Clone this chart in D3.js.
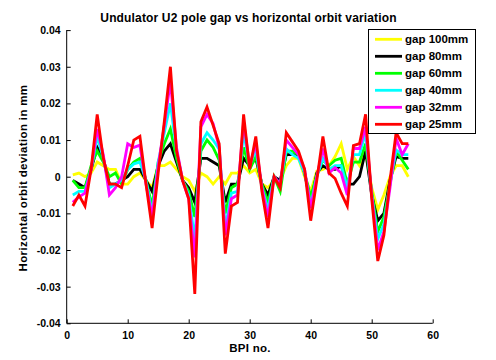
<!DOCTYPE html>
<html><head><meta charset="utf-8">
<script src="https://cdn.jsdelivr.net/npm/d3@7"></script>
<style>
html,body{margin:0;padding:0;background:#fff;}
svg text{font-family:"Liberation Sans",Arial,sans-serif;font-weight:bold;fill:#000;}
</style></head>
<body><svg id="c" width="496" height="360"></svg>
<script>
const bpi = d3.range(1, 57);
const gap100 = [0.0005,0.001,0.000,0.001,0.004,0.003,0.002,0.002,-0.002,-0.002,0.000,0.001,-0.001,-0.003,0.003,0.003,0.004,0.002,0.000,-0.001,-0.004,0.001,0.000,-0.002,0.000,-0.002,0.001,0.001,0.003,0.001,0.002,-0.002,-0.003,-0.001,-0.001,0.003,0.005,0.005,0.000,-0.004,0.0015,0.002,0.003,0.0055,0.009,0.002,0.0055,0.003,0.007,-0.003,-0.009,-0.005,0.000,0.003,0.003,0.000];
const gap80 = [-0.001,-0.002,-0.003,0.002,0.008,0.005,-0.002,-0.002,-0.001,0.000,0.002,0.002,-0.001,-0.004,0.003,0.007,0.009,0.004,-0.001,-0.003,-0.007,0.005,0.005,0.004,0.003,-0.007,-0.002,-0.002,0.005,0.003,0.005,-0.002,-0.005,0.000,-0.001,0.006,0.006,0.006,0.001,-0.007,0.001,0.003,0.002,0.002,0.003,-0.002,-0.002,0.000,0.007,-0.005,-0.012,-0.010,-0.001,0.0055,0.005,0.005];
const gap60 = [-0.001,-0.003,-0.003,0.003,0.007,0.004,0.000,0.001,-0.002,0.002,0.004,0.005,-0.001,-0.008,0.004,0.009,0.013,0.005,-0.001,-0.004,-0.011,0.007,0.010,0.008,0.0045,-0.010,-0.003,-0.002,0.008,0.002,0.0055,-0.002,-0.007,0.000,-0.004,0.007,0.007,0.006,0.001,-0.0055,0.0005,0.0045,0.003,0.0045,0.005,-0.002,0.004,0.004,0.009,-0.004,-0.015,-0.011,-0.002,0.007,0.0045,0.002];
const gap40 = [-0.005,-0.004,-0.004,0.002,0.011,0.005,-0.003,-0.002,-0.001,0.002,0.0035,0.004,-0.001,-0.010,0.004,0.012,0.020,0.007,-0.001,-0.005,-0.017,0.009,0.012,0.010,0.0075,-0.014,-0.0045,-0.004,0.012,0.003,0.0075,-0.003,-0.009,0.000,-0.002,0.0076,0.006,0.005,0.001,-0.0077,0.000,0.005,0.002,0.003,0.003,-0.003,0.006,0.006,0.012,-0.005,-0.017,-0.013,-0.002,0.0073,0.006,0.006];
const gap32 = [-0.007,-0.0055,-0.0045,0.002,0.013,0.006,-0.005,-0.003,0.000,0.009,0.008,0.0086,-0.002,-0.011,0.003,0.014,0.026,0.008,-0.001,-0.006,-0.022,0.0136,0.017,0.0145,0.008,-0.016,-0.006,-0.005,0.015,0.003,0.009,-0.003,-0.011,0.000,-0.002,0.010,0.008,0.006,0.002,-0.0086,0.000,0.0077,0.001,0.0025,0.001,-0.005,0.0077,0.0077,0.0136,-0.005,-0.020,-0.015,-0.003,0.0105,0.006,0.009];
const gap25 = [-0.008,-0.005,-0.008,0.002,0.017,0.005,-0.002,-0.002,-0.003,0.003,0.010,0.011,-0.002,-0.014,0.001,0.015,0.030,0.007,-0.001,-0.006,-0.032,0.015,0.019,0.014,0.009,-0.021,-0.008,-0.007,0.017,0.002,0.011,-0.004,-0.014,0.000,-0.003,0.012,0.0095,0.007,0.002,-0.012,-0.001,0.011,0.001,-0.0005,-0.0045,-0.008,0.0085,0.009,0.017,-0.006,-0.023,-0.016,-0.001,0.012,0.009,0.009];
const seriesNames = ["gap 100mm","gap 80mm","gap 60mm","gap 40mm","gap 32mm","gap 25mm"];
const seriesValues = [gap100, gap80, gap60, gap40, gap32, gap25];
const seriesColors = ["#ffff00","#000000","#00ff00","#00ffff","#ff00ff","#ff0000"];
const xTicks = [0,10,20,30,40,50,60];
const yTicks = [-0.04,-0.03,-0.02,-0.01,0,0.01,0.02,0.03,0.04];
const yTickLabels = ["-0.04","-0.03","-0.02","-0.01","0","0.01","0.02","0.03","0.04"];
const titleText = "Undulator U2 pole gap vs horizontal orbit variation";
const xLabel = "BPI no.";
const yLabel = "Horizontal orbit deviation in mm";

const svg = d3.select("#c");
const L = 66.7, R = 432.7, T = 30.1, B = 323.3;
const x = d3.scaleLinear().domain([0,60]).range([L,R]);
const y = d3.scaleLinear().domain([-0.04,0.04]).range([B,T]);

const xAxis = d3.axisBottom(x).tickValues(xTicks).tickSize(-4).tickPadding(8).tickFormat(d3.format("d"));
const yAxis = d3.axisLeft(y).tickValues(yTicks).tickSize(-4).tickPadding(6).tickFormat((d,i)=>yTickLabels[i]);

const gx = svg.append("g").attr("transform",`translate(0,${B})`).call(xAxis);
const gy = svg.append("g").attr("transform",`translate(${L},0)`).call(yAxis);
[gx,gy].forEach(g=>{
  g.selectAll("path.domain").attr("stroke","#000").attr("stroke-width",1);
  g.selectAll(".tick line").attr("stroke","#000");
  g.selectAll("text").style("font-size","10.5px").style("font-family","Liberation Sans, Arial, sans-serif").style("font-weight","bold");
});
gx.select("path.domain").attr("d",`M${L},0H${R}`);
gy.select("path.domain").attr("d",`M0,${B}V${T}`);

const line = d3.line().x((d,i)=>x(bpi[i])).y(d=>y(d));
seriesValues.forEach((vals,k)=>{
  svg.append("path").datum(vals).attr("d",line)
    .attr("fill","none").attr("stroke",seriesColors[k]).attr("stroke-width",2.8)
    .attr("stroke-linejoin","miter").attr("stroke-miterlimit",4);
});

svg.append("text").attr("x",248.5).attr("y",21.5).attr("text-anchor","middle")
  .style("font-size","12px").style("letter-spacing","0.15px").text(titleText);
svg.append("text").attr("x",250).attr("y",352).attr("text-anchor","middle")
  .style("font-size","11.5px").style("letter-spacing","0.3px").text(xLabel);
svg.append("text").attr("transform","translate(27,178) rotate(-90)").attr("text-anchor","middle")
  .style("font-size","11.5px").style("letter-spacing","0.35px").text(yLabel);

const lg = svg.append("g");
lg.append("rect").attr("x",368.5).attr("y",29.5).attr("width",107).attr("height",104)
  .attr("fill","#fff").attr("stroke","#000").attr("stroke-width",1);
seriesNames.forEach((n,k)=>{
  const yy = 39.3 + k*17;
  lg.append("line").attr("x1",375).attr("x2",402).attr("y1",yy).attr("y2",yy)
    .attr("stroke",seriesColors[k]).attr("stroke-width",2.8);
  lg.append("text").attr("x",405).attr("y",yy+4).style("font-size","11.5px").text(n);
});
</script></body></html>
